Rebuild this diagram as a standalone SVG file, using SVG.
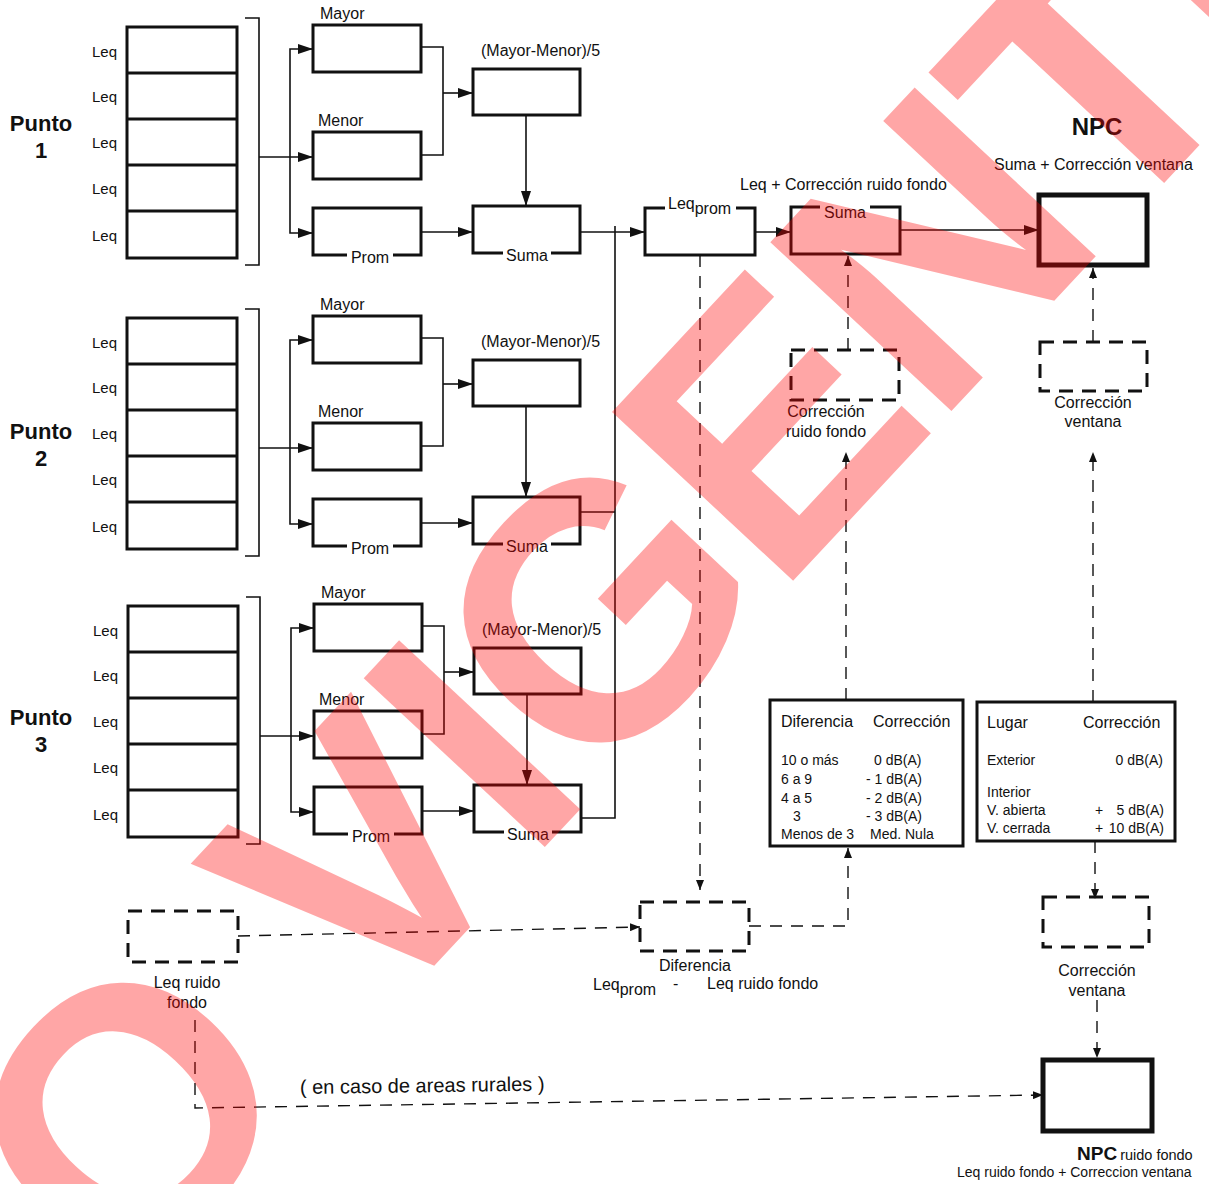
<svg xmlns="http://www.w3.org/2000/svg" width="1209" height="1184" viewBox="0 0 1209 1184">
<defs>
<style>
text{font-family:"Liberation Sans",Arial,sans-serif;fill:#111}
.box{fill:none;stroke:#111;stroke-width:3}
.thick{fill:none;stroke:#111;stroke-width:5}
.dbox{fill:none;stroke:#111;stroke-width:3;stroke-dasharray:14 9}
.ln{fill:none;stroke:#111;stroke-width:1.6}
.dl{fill:none;stroke:#111;stroke-width:1.4;stroke-dasharray:12 9}
.lbl{font-size:16px}
.leq{font-size:15px}
.pt{font-size:22px;font-weight:bold;text-anchor:middle}
.tb{font-size:14px}
.th{font-size:16px}
.mid{text-anchor:middle}
.end{text-anchor:end}
.wbg{fill:#fff;stroke:none}
</style>
<marker id="ah" markerUnits="userSpaceOnUse" markerWidth="15" markerHeight="10" refX="15" refY="5" orient="auto"><path d="M0,0 L15,5 L0,10 z" fill="#111"/></marker>
<marker id="as" markerUnits="userSpaceOnUse" markerWidth="10" markerHeight="8" refX="10" refY="4" orient="auto"><path d="M0,0 L10,4 L0,8 z" fill="#111"/></marker>
<g id="punto-block">
<rect class="box" x="127" y="27" width="110" height="231"/>
<path class="box" d="M127 73H237M127 119H237M127 165H237M127 211H237"/>
<text class="leq" x="92" y="57">Leq</text>
<text class="leq" x="92" y="102">Leq</text>
<text class="leq" x="92" y="148">Leq</text>
<text class="leq" x="92" y="194">Leq</text>
<text class="leq" x="92" y="241">Leq</text>
<path class="ln" d="M245 18H259V265H245"/>
<path class="ln" d="M259 157H313" marker-end="url(#ah)"/>
<path class="ln" d="M290 157V49H313" marker-end="url(#ah)"/>
<path class="ln" d="M290 157V233H313" marker-end="url(#ah)"/>
<rect class="box" x="313" y="25" width="108" height="47"/>
<text class="lbl" x="320" y="19">Mayor</text>
<rect class="box" x="313" y="132" width="108" height="47"/>
<text class="lbl" x="318" y="126">Menor</text>
<rect class="box" x="313" y="208" width="108" height="47"/>
<rect class="wbg" x="347" y="250" width="46" height="10"/>
<text class="lbl mid" x="370" y="263">Prom</text>
<path class="ln" d="M421 47H443V155H421"/>
<path class="ln" d="M443 93H473" marker-end="url(#ah)"/>
<rect class="box" x="473" y="69" width="107" height="46"/>
<text class="lbl" x="481" y="56">(Mayor-Menor)/5</text>
<path class="ln" d="M526 115V206" marker-end="url(#ah)"/>
<path class="ln" d="M421 232H473" marker-end="url(#ah)"/>
<rect class="box" x="473" y="206" width="107" height="47"/>
<rect class="wbg" x="503" y="248" width="48" height="10"/>
<text class="lbl mid" x="527" y="261">Suma</text>
</g>
</defs>

<g id="punto1">
<text class="pt" x="41" y="131">Punto</text>
<text class="pt" x="41" y="158">1</text>
<use href="#punto-block"/>
</g>
<g id="punto2">
<text class="pt" x="41" y="439">Punto</text>
<text class="pt" x="41" y="466">2</text>
<use href="#punto-block" transform="translate(0,291)"/>
</g>
<g id="punto3">
<text class="pt" x="41" y="725">Punto</text>
<text class="pt" x="41" y="752">3</text>
<use href="#punto-block" transform="translate(1,579)"/>
</g>

<g id="connectors">
<path class="ln" d="M580 232H645" marker-end="url(#ah)"/>
<path class="ln" d="M615 226V818H582"/>
<path class="ln" d="M580 512H615"/>
<path class="ln" d="M755 232H791" marker-end="url(#ah)"/>
<path class="ln" d="M900 230H1039" marker-end="url(#ah)"/>
<path class="dl" d="M848 350V256" marker-end="url(#as)"/>
<path class="dl" d="M1093 342V268" marker-end="url(#as)"/>
<path class="dl" d="M700 255V890" marker-end="url(#as)"/>
<path class="dl" d="M749 926H848V848" marker-end="url(#as)"/>
<path class="dl" d="M846 700V452" marker-end="url(#as)"/>
<path class="dl" d="M1093 702V452" marker-end="url(#as)"/>
<path class="dl" d="M1095 841V899" marker-end="url(#as)"/>
<path class="dl" d="M1097 1000V1058" marker-end="url(#as)"/>
<path class="dl" d="M238 936L640 927" marker-end="url(#as)"/>
<path class="dl" d="M195 1020V1108L1043 1095" marker-end="url(#as)"/>
</g>

<g id="leqprom">
<rect class="box" x="645" y="208" width="110" height="47"/>
<rect class="wbg" x="665" y="200" width="71" height="12"/>
<text class="lbl" x="668" y="209">Leq<tspan dy="5">prom</tspan></text>
</g>
<g id="suma-ruido">
<text class="lbl" x="740" y="190">Leq + Corrección ruido fondo</text>
<rect class="box" x="791" y="207" width="109" height="47"/>
<rect class="wbg" x="820" y="202" width="50" height="10"/>
<text class="lbl mid" x="845" y="218">Suma</text>
</g>
<g id="npc">
<text x="1097" y="135" style="font-size:24px;font-weight:bold" class="mid">NPC</text>
<text class="lbl" x="994" y="170">Suma + Corrección ventana</text>
<rect class="thick" x="1039" y="195" width="108" height="70"/>
</g>
<g id="corr-ruido">
<rect class="dbox" x="791" y="350" width="108" height="50"/>
<text class="lbl mid" x="826" y="417">Corrección</text>
<text class="lbl mid" x="826" y="437">ruido fondo</text>
</g>
<g id="corr-ventana">
<rect class="dbox" x="1040" y="342" width="107" height="49"/>
<text class="lbl mid" x="1093" y="408">Corrección</text>
<text class="lbl mid" x="1093" y="427">ventana</text>
</g>
<g id="tabla-ruido">
<rect class="box" x="770" y="700" width="193" height="146"/>
<text class="th" x="781" y="727">Diferencia</text>
<text class="th" x="873" y="727">Corrección</text>
<text class="tb" x="781" y="765">10 o más</text>
<text class="tb" x="874" y="765">0 dB(A)</text>
<text class="tb" x="781" y="784">6 a 9</text>
<text class="tb" x="866" y="784">- 1 dB(A)</text>
<text class="tb" x="781" y="803">4 a 5</text>
<text class="tb" x="866" y="803">- 2 dB(A)</text>
<text class="tb" x="793" y="821">3</text>
<text class="tb" x="866" y="821">- 3 dB(A)</text>
<text class="tb" x="781" y="839">Menos de 3</text>
<text class="tb" x="870" y="839">Med. Nula</text>
</g>
<g id="tabla-ventana">
<rect class="box" x="977" y="702" width="198" height="139"/>
<text class="th" x="987" y="728">Lugar</text>
<text class="th" x="1083" y="728">Corrección</text>
<text class="tb" x="987" y="765">Exterior</text>
<text class="tb end" x="1163" y="765">0  dB(A)</text>
<text class="tb" x="987" y="797">Interior</text>
<text class="tb" x="987" y="815">V. abierta</text>
<text class="tb" x="1095" y="815">+</text>
<text class="tb end" x="1164" y="815">5 dB(A)</text>
<text class="tb" x="987" y="833">V. cerrada</text>
<text class="tb" x="1095" y="833">+</text>
<text class="tb end" x="1164" y="833">10 dB(A)</text>
</g>
<g id="leq-ruido">
<rect class="dbox" x="128" y="911" width="110" height="51"/>
<text class="lbl mid" x="187" y="988">Leq ruido</text>
<text class="lbl mid" x="187" y="1008">fondo</text>
</g>
<g id="diferencia">
<rect class="dbox" x="640" y="902" width="109" height="49"/>
<text class="lbl mid" x="695" y="971">Diferencia</text>
<text class="lbl" x="593" y="990">Leq<tspan dy="5">prom</tspan></text>
<text class="lbl" x="673" y="989">-</text>
<text class="lbl" x="707" y="989">Leq ruido fondo</text>
</g>
<g id="corr-ventana-2">
<rect class="dbox" x="1043" y="897" width="106" height="50"/>
<text class="lbl mid" x="1097" y="976">Corrección</text>
<text class="lbl mid" x="1097" y="996">ventana</text>
</g>
<g id="npc-ruido">
<rect class="thick" x="1043" y="1060" width="109" height="71"/>
<text x="1077" y="1160"><tspan style="font-size:19px;font-weight:bold">NPC</tspan><tspan style="font-size:14.5px" dx="3">ruido fondo</tspan></text>
<text style="font-size:14px" x="957" y="1177">Leq ruido fondo + Correccion ventana</text>
</g>
<text style="font-size:20px" x="300" y="1094" transform="rotate(-0.8 300 1094)">( en caso de areas rurales )</text>

<text transform="translate(-50,1485) rotate(-47)" style="font-size:360px;font-weight:bold;letter-spacing:-8px;fill:#ff0000;fill-opacity:0.35">NO VIGENTE</text>
</svg>
